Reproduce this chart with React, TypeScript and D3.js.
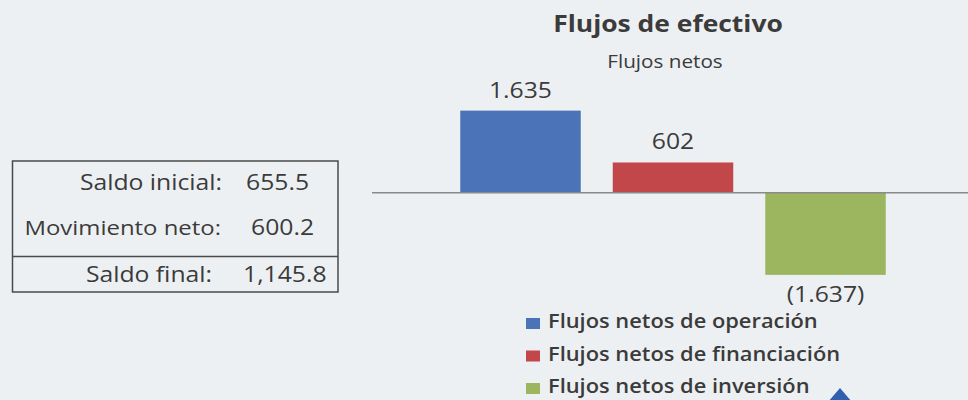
import React, { useEffect } from "react";
import * as d3 from "d3";

const categories = ["Flujos netos de operación", "Flujos netos de financiación", "Flujos netos de inversión"];
const values = [1635, 602, -1637];
const valueLabels = ["1.635", "602", "(1.637)"];
const colors = ["#4b73b7", "#c2474b", "#9bb65e"];

const boxLabels = ["Saldo inicial:", "Movimiento neto:", "Saldo final:"];
const boxValues = ["655.5", "600.2", "1,145.8"];

const W = 968;
const H = 400;
const FONT = "'Open Sans', sans-serif";
const SX = 1.15; // the scan is a bit stretched sideways
const INK = "#3b3b3b";

function T({ x, y, size, anchor = "start", weight = 400, children }: any) {
  return (
    <text
      transform={`translate(${x},${y}) scale(${SX},1)`}
      fontSize={size}
      fontFamily={FONT}
      fontWeight={weight}
      textAnchor={anchor}
      fill={INK}
    >
      {children}
    </text>
  );
}

export default function App() {
  useEffect(() => {
    document.body.style.margin = "0";
  }, []);

  const x = d3.scaleBand<string>().domain(categories).range([445, 901]).paddingInner(0.21).paddingOuter(0.1);
  const y = d3.scaleLinear().domain([-2000, 2000]).range([293.1, 92.3]);
  const bw = x.bandwidth();

  // box rows
  const rowY = [190, 235, 282];
  const labelEnd = [222, 221, 212];
  const valueStart = [246, 251, 243];

  return (
    <svg width={W} height={H} style={{ display: "block", background: "#edf0f3" }}>
      {/* summary box */}
      <rect x={12.5} y={161} width={325.5} height={131} fill="none" stroke="#4a4a4a" strokeWidth={1.5} />
      <line x1={12.5} x2={338} y1={256.5} y2={256.5} stroke="#4a4a4a" strokeWidth={1.5} />
      {boxLabels.map((l, i) => (
        <g key={l}>
          <T x={labelEnd[i]} y={rowY[i]} size={i === 1 ? 20.8 : 21.5} anchor="end">{l}</T>
          <T x={valueStart[i]} y={rowY[i]} size={21.5}>{boxValues[i]}</T>
        </g>
      ))}

      {/* titles */}
      <T x={668} y={31.5} size={23} anchor="middle" weight={700}>Flujos de efectivo</T>
      <T x={665} y={68} size={18} anchor="middle">Flujos netos</T>

      {/* bars */}
      {categories.map((c, i) => {
        const v = values[i];
        const top = y(Math.max(0, v));
        const h = Math.abs(y(v) - y(0));
        const cx = (x(c) as number) + bw / 2;
        return (
          <g key={c}>
            <rect x={x(c)} y={top} width={bw} height={h} fill={colors[i]} />
            <T x={cx} y={v >= 0 ? y(v) - 13 : y(v) + 27} size={21.5} anchor="middle">{valueLabels[i]}</T>
          </g>
        );
      })}
      <line x1={372} x2={W} y1={y(0)} y2={y(0)} stroke="#8a8a8a" strokeWidth={1.5} />

      {/* legend */}
      {categories.map((c, i) => (
        <g key={"lg" + c}>
          <rect x={526} y={318 + i * 32.5} width={14} height={11} fill={colors[i]} />
          <T x={548} y={328 + i * 32.5} size={19} weight={600}>{c}</T>
        </g>
      ))}

      {/* logo fragment at the bottom edge */}
      <path d={d3.line()([[840, 388], [852, 402], [828, 402]]) + "Z"} fill="#2f5fae" />
    </svg>
  );
}
